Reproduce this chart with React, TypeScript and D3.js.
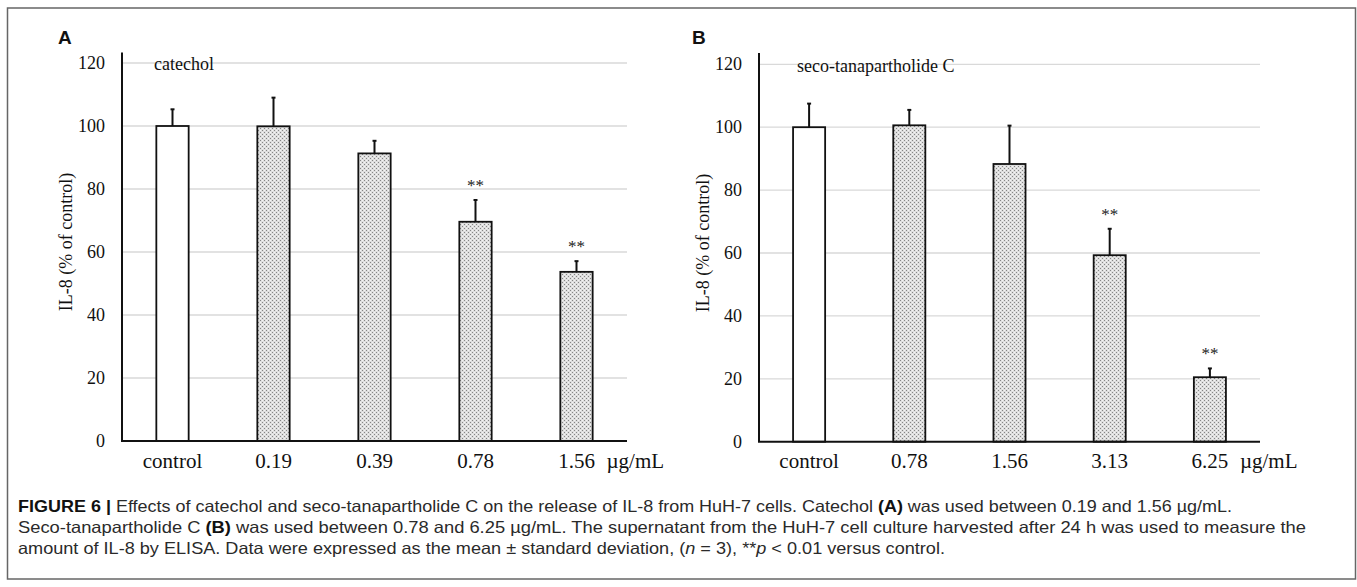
import React from "react";
import * as d3 from "d3";

const categoriesA = ["control", "0.19", "0.39", "0.78", "1.56"];
const valuesA = [100, 99.9, 91.3, 69.6, 53.7];
const errorsA = [5.3, 9.1, 4.0, 6.9, 3.4];
const significantA = [false, false, false, true, true];

const categoriesB = ["control", "0.78", "1.56", "3.13", "6.25"];
const valuesB = [100, 100.6, 88.3, 59.3, 20.5];
const errorsB = [7.5, 4.9, 12.2, 8.4, 2.8];
const significantB = [false, false, false, true, true];

const yTicks = [0, 20, 40, 60, 80, 100, 120];
const unitLabel = "µg/mL";
const yAxisTitle = "IL-8 (% of control)";

const captionLines = [
  [
    { t: "FIGURE 6 | ", b: true },
    { t: "Effects of catechol and seco-tanapartholide C on the release of IL-8 from HuH-7 cells. Catechol " },
    { t: "(A)", b: true },
    { t: " was used between 0.19 and 1.56 µg/mL." },
  ],
  [
    { t: "Seco-tanapartholide C " },
    { t: "(B)", b: true },
    { t: " was used between 0.78 and 6.25 µg/mL. The supernatant from the HuH-7 cell culture harvested after 24 h was used to measure the" },
  ],
  [
    { t: "amount of IL-8 by ELISA. Data were expressed as the mean ± standard deviation, (" },
    { t: "n", i: true },
    { t: " = 3), **" },
    { t: "p", i: true },
    { t: " < 0.01 versus control." },
  ],
];
const captionWidths = [1214, 1288, 927];

const SERIF = "'Liberation Serif', 'Times New Roman', serif";
const SANS = "'Liberation Sans', Arial, sans-serif";

type PanelProps = {
  letter: string;
  letterX: number;
  compound: string;
  compoundX: number;
  compoundY: number;
  cats: string[];
  vals: number[];
  errs: number[];
  sig: boolean[];
  x0: number;
  x1: number;
  yBottom: number;
  yTop: number;
  axisTop: number;
  ylabelX: number;
};

function Panel(p: PanelProps) {
  const x = d3
    .scaleBand<string>()
    .domain(p.cats)
    .range([p.x0, p.x1])
    .paddingInner(0.68)
    .paddingOuter(0.34);
  const y = d3.scaleLinear().domain([0, 120]).range([p.yBottom, p.yTop]);
  const bw = x.bandwidth();
  const last = p.cats[p.cats.length - 1];
  return (
    <g>
      <text x={p.letterX} y={44} fontFamily={SANS} fontWeight="bold" fontSize={19} fill="#111">
        {p.letter}
      </text>
      {yTicks.slice(1).map((t) => (
        <line key={t} x1={p.x0} x2={p.x1} y1={y(t)} y2={y(t)} stroke="#d9d9d9" strokeWidth={1.3} />
      ))}
      {yTicks.map((t) => (
        <text
          key={t}
          x={p.x0 - 17}
          y={y(t)}
          textAnchor="end"
          dominantBaseline="central"
          fontFamily={SERIF}
          fontSize={18}
          fill="#111"
        >
          {t}
        </text>
      ))}
      <text
        transform={`translate(${p.ylabelX},${(p.yBottom + p.yTop) / 2 - 10}) rotate(-90)`}
        textAnchor="middle"
        dominantBaseline="central"
        fontFamily={SERIF}
        fontSize={18}
        fill="#111"
      >
        {yAxisTitle}
      </text>
      <text x={p.compoundX} y={p.compoundY} fontFamily={SERIF} fontSize={18} fill="#111">
        {p.compound}
      </text>
      {p.cats.map((c, i) => {
        const cx = (x(c) as number) + bw / 2;
        const top = y(p.vals[i]);
        const et = y(p.vals[i] + p.errs[i]);
        return (
          <g key={c}>
            <line x1={cx} x2={cx} y1={top} y2={et} stroke="#111" strokeWidth={2} />
            <line x1={cx - 2} x2={cx + 2} y1={et} y2={et} stroke="#111" strokeWidth={2} />
            <rect
              x={x(c)}
              y={top}
              width={bw}
              height={p.yBottom - top}
              fill={i === 0 ? "#fff" : "url(#dots)"}
              stroke="#111"
              strokeWidth={1.8}
            />
            {p.sig[i] && (
              <text x={cx} y={et - 9} textAnchor="middle" fontFamily={SERIF} fontSize={17} fill="#222">
                **
              </text>
            )}
            <text x={cx} y={468} textAnchor="middle" fontFamily={SERIF} fontSize={21} fill="#111">
              {c}
            </text>
          </g>
        );
      })}
      <text
        x={(x(last) as number) + bw / 2 + 30}
        y={468}
        fontFamily={SERIF}
        fontSize={21}
        fill="#111"
      >
        {unitLabel}
      </text>
      <line x1={p.x0} x2={p.x0} y1={p.axisTop} y2={p.yBottom} stroke="#111" strokeWidth={2} />
      <line x1={p.x0 - 1} x2={p.x1} y1={p.yBottom} y2={p.yBottom} stroke="#111" strokeWidth={2} />
    </g>
  );
}

export default function App() {
  return (
    <svg
      width={1357}
      height={587}
      style={{ position: "absolute", left: 0, top: 0, background: "#fff" }}
    >
      <defs>
        <pattern id="dots" width={4} height={4} patternUnits="userSpaceOnUse">
          <rect width={4} height={4} fill="#dedede" />
          <rect x={0} y={0} width={1} height={1} fill="#858585" />
          <rect x={2} y={2} width={1} height={1} fill="#858585" />
          <rect x={2} y={0} width={1} height={1} fill="#f4f4f4" />
          <rect x={0} y={2} width={1} height={1} fill="#f4f4f4" />
        </pattern>
      </defs>
      <rect x={7.5} y={8} width={1348} height={571} fill="#fff" stroke="#666" strokeWidth={1.5} />
      <Panel
        letter="A"
        letterX={58}
        compound="catechol"
        compoundX={154}
        compoundY={70}
        cats={categoriesA}
        vals={valuesA}
        errs={errorsA}
        sig={significantA}
        x0={122}
        x1={627}
        yBottom={441}
        yTop={63}
        axisTop={52.5}
        ylabelX={66}
      />
      <Panel
        letter="B"
        letterX={692}
        compound="seco-tanapartholide C"
        compoundX={797}
        compoundY={72}
        cats={categoriesB}
        vals={valuesB}
        errs={errorsB}
        sig={significantB}
        x0={759}
        x1={1260}
        yBottom={441.7}
        yTop={64.3}
        axisTop={53}
        ylabelX={703}
      />
      {captionLines.map((line, li) => (
        <text
          key={li}
          x={18}
          y={512 + li * 21}
          fontFamily={SANS}
          fontSize={16.5}
          fill="#2a2a2a"
          textLength={captionWidths[li]}
          lengthAdjust="spacingAndGlyphs"
        >
          {line.map((s: any, si) => (
            <tspan
              key={si}
              fontWeight={s.b ? "bold" : "normal"}
              fontStyle={s.i ? "italic" : "normal"}
              fill={s.b ? "#111" : undefined}
            >
              {s.t}
            </tspan>
          ))}
        </text>
      ))}
    </svg>
  );
}
